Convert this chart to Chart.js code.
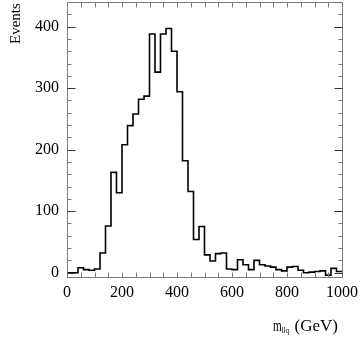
<!DOCTYPE html>
<html>
<head>
<meta charset="utf-8">
<script src="https://cdn.jsdelivr.net/npm/chart.js@4/dist/chart.umd.min.js"></script>
<style>
  html, body { margin: 0; padding: 0; background: #fff; }
  #wrap { position: relative; width: 360px; height: 344px; }
</style>
</head>
<body>
<div id="wrap"><canvas id="chart" width="360" height="344"></canvas></div>
<script>
// histogram bins, 20 GeV wide
const binEdges = [0, 20, 40, 60, 80, 100, 120, 140, 160, 180, 200, 220, 240, 260, 280, 300, 320, 340, 360, 380,
  400, 420, 440, 460, 480, 500, 520, 540, 560, 580, 600, 620, 640, 660, 680, 700, 720, 740, 760, 780,
  800, 820, 840, 860, 880, 900, 920, 940, 960, 980, 1000];
const events = [0, 0, 8, 5, 4, 6, 32, 76, 163, 130, 208, 239, 258, 282, 287, 388, 326, 388, 397, 360,
  294, 182, 132, 54, 75, 29, 19, 31, 32, 6, 5, 21, 13, 5, 20, 13, 11, 9, 5, 3,
  9, 10, 4, 0, 1, 2, 3, -4, 7, 2];
const xTicks = [0, 200, 400, 600, 800, 1000];
const yTicks = [0, 100, 200, 300, 400];

const FONT = 'Liberation Serif';

// step outline: each edge carries the value of the bin to its right, last edge repeats last bin
const points = binEdges.map((x, i) => ({ x: x, y: events[Math.min(i, events.length - 1)] }));

// frame + inward ticks on all four sides, like the paw style
const framePlugin = {
  id: 'frame',
  afterDraw(c) {
    const ctx = c.ctx;
    const a = c.chartArea;
    const xs = c.scales.x, ys = c.scales.y;
    const L = Math.round(a.left) + 0.5, R = Math.round(a.right) + 0.5;
    const T = Math.round(a.top) + 0.5, B = Math.round(a.bottom) + 0.5;
    ctx.save();
    ctx.lineWidth = 1;
    ctx.strokeStyle = '#7a7a7a';
    ctx.strokeRect(L, T, R - L, B - T);

    // x ticks every 50
    for (let v = 0; v <= 1000; v += 50) {
      const px = Math.round(xs.getPixelForValue(v)) + 0.5;
      ctx.beginPath();
      ctx.moveTo(px, B); ctx.lineTo(px, B - 5);
      ctx.moveTo(px, T); ctx.lineTo(px, T + 5);
      ctx.stroke();
    }
    // y ticks every 20, long every 100
    for (let v = 0; v <= 440; v += 20) {
      const py = Math.round(ys.getPixelForValue(v)) + 0.5;
      const len = v % 100 === 0 ? 8 : 4;
      ctx.strokeStyle = v % 100 === 0 ? '#333' : '#7a7a7a';
      ctx.beginPath();
      ctx.moveTo(L, py); ctx.lineTo(L + len, py);
      ctx.moveTo(R, py); ctx.lineTo(R - len, py);
      ctx.stroke();
    }

    // axis titles
    ctx.fillStyle = '#000';
    ctx.textBaseline = 'alphabetic';
    ctx.textAlign = 'left';
    ctx.save();
    ctx.translate(273, 331);
    ctx.scale(0.7, 1);
    ctx.font = '16px "' + FONT + '"';
    ctx.fillText('m', 0, 0);
    ctx.restore();
    ctx.save();
    ctx.translate(281.5, 333);
    ctx.scale(0.8, 1);
    ctx.font = '9px "' + FONT + '"';
    ctx.fillText('llq', 0, 0);
    ctx.restore();
    ctx.font = '17px "' + FONT + '"';
    ctx.fillText('(GeV)', 294.5, 331);

    ctx.translate(20, 44);
    ctx.rotate(-Math.PI / 2);
    ctx.font = '15px "' + FONT + '"';
    ctx.fillText('Events', 0, 0);
    ctx.restore();
  }
};

const ctx = document.getElementById('chart').getContext('2d');
const chart = new Chart(ctx, {
  type: 'line',
  data: {
    datasets: [{
      data: points,
      borderColor: '#000',
      borderWidth: 1.6,
      pointRadius: 0,
      fill: false,
      stepped: 'before',
      tension: 0
    }]
  },
  options: {
    responsive: false,
    animation: false,
    events: [],
    layout: { padding: { top: 2, right: 18, left: 0, bottom: 0 } },
    plugins: { legend: { display: false }, tooltip: { enabled: false } },
    scales: {
      x: {
        type: 'linear',
        min: 0,
        max: 1000,
        afterBuildTicks: s => { s.ticks = xTicks.map(v => ({ value: v })); },
        afterFit: s => { s.height = 67; s.paddingLeft = 0; s.paddingRight = 0; },
        grid: { display: false, drawTicks: false },
        border: { display: false },
        ticks: {
          padding: 6,
          maxRotation: 0,
          color: '#000',
          font: { family: FONT, size: 16 },
          callback: v => String(v)
        }
      },
      y: {
        type: 'linear',
        min: -7,
        max: 440,
        afterBuildTicks: s => { s.ticks = yTicks.map(v => ({ value: v })); },
        afterFit: s => { s.width = 67; s.paddingTop = 0; s.paddingBottom = 0; },
        grid: { display: false, drawTicks: false },
        border: { display: false },
        ticks: {
          padding: 8,
          color: '#000',
          font: { family: FONT, size: 16 },
          callback: v => String(v)
        }
      }
    }
  },
  plugins: [framePlugin]
});
</script>
</body>
</html>
